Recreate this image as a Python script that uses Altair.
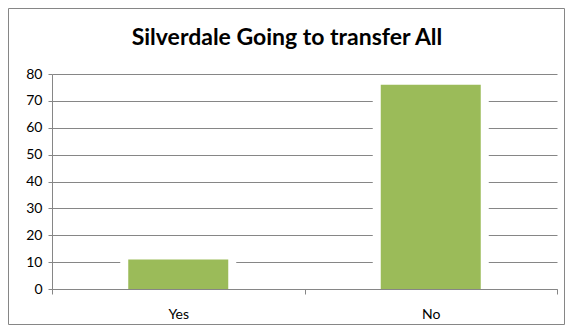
import altair as alt
import pandas as pd

categories = ["Yes", "No"]
values = [11, 76]
y_ticks = [0, 10, 20, 30, 40, 50, 60, 70, 80]
title_text = "Silverdale Going to transfer All"

df = pd.DataFrame({"answer": categories, "count": values})
frame_df = pd.DataFrame({"k": [0]})
title_df = pd.DataFrame({"t": [title_text]})

FONT = "Lato"
GRAY = "#868686"

x_enc = alt.X(
    "answer:N", sort=categories, title=None,
    scale=alt.Scale(paddingInner=0, paddingOuter=0),
    axis=alt.Axis(labelAngle=0, tickBand="extent", domainColor=GRAY, tickColor=GRAY,
                  tickSize=5, labelPadding=13, labelFont=FONT, labelFontSize=14,
                  labelColor="#000000", zindex=1),
)
y_enc = alt.Y(
    "count:Q", title=None,
    scale=alt.Scale(domain=[0, 80], nice=False),
    axis=alt.Axis(values=y_ticks, gridColor=GRAY, domainColor=GRAY, tickColor=GRAY,
                  tickSize=4, labelPadding=6, labelFont=FONT, labelFontSize=14,
                  labelColor="#000000"),
)

backer = alt.Chart(df).mark_bar(size=116, color="white").encode(x=x_enc, y=y_enc)
bars = alt.Chart(df).mark_bar(size=100, color="#9BBB59").encode(x=x_enc, y=y_enc)

frame = alt.Chart(frame_df).mark_rect(fillOpacity=0, stroke=GRAY, strokeWidth=1).encode(
    x=alt.value(-43.5), x2=alt.value(512.5), y=alt.value(-65.5), y2=alt.value(250.5)
)

title = alt.Chart(title_df).mark_text(
    font=FONT, fontSize=23, fontWeight="bold", color="#000000",
    align="center", baseline="alphabetic"
).encode(text="t:N", x=alt.value(235), y=alt.value(-29))

chart = alt.layer(backer, bars, frame, title).properties(
    width=505, height=215,
    autosize=alt.AutoSizeParams(type="none"),
    padding={"left": 44, "top": 66, "right": 8, "bottom": 36},
).configure_view(stroke=None)

chart.save("out.html", embed_options={"renderer": "svg", "actions": False})
